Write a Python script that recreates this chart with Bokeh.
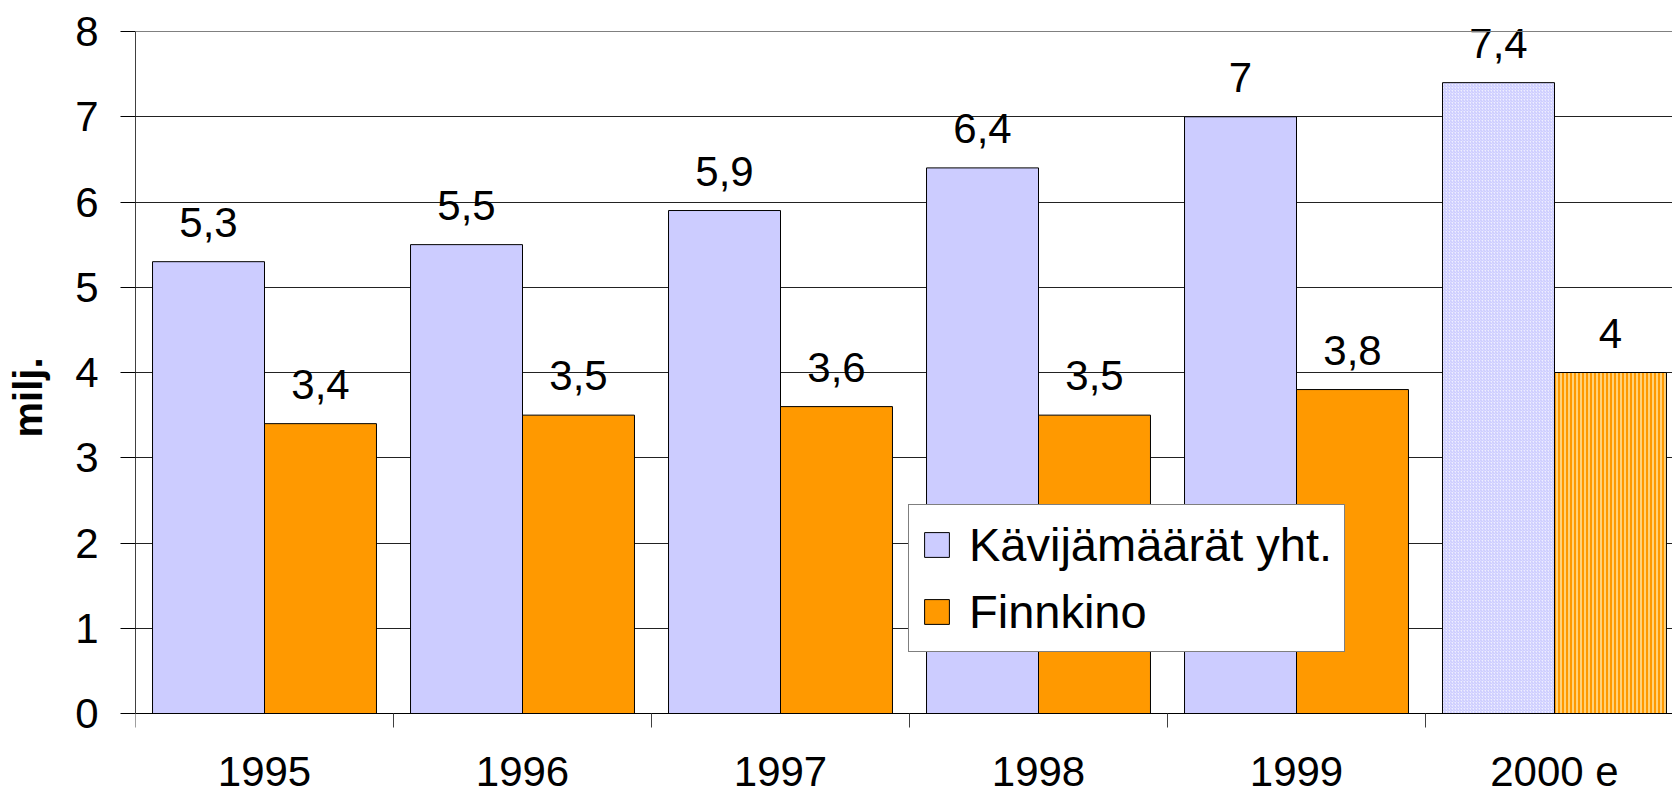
from bokeh.plotting import figure
from bokeh.models import (Range1d, FixedTicker, ColumnDataSource, LabelSet, Legend,
                          LegendItem, Span)
from bokeh.core.properties import value
from bokeh.embed import file_html
from bokeh.resources import INLINE

categories = ["1995", "1996", "1997", "1998", "1999", "2000 e"]
total = [5.3, 5.5, 5.9, 6.4, 7.0, 7.4]
finnkino = [3.4, 3.5, 3.6, 3.5, 3.8, 4.0]
y_ticks = [0, 1, 2, 3, 4, 5, 6, 7, 8]
series_names = ["Kävijämäärät yht.", "Finnkino"]
y_title = "milj."

FONT = "Liberation Sans"
LAV = "#CCCCFF"
ORA = "#FF9900"
BW = 0.434
OFF = 0.217

W, H = 1672, 794
LEFT = 135
TOP_PAD = 31       # px above the y=8 line
BOTTOM_PAD = 81    # px below the y=0 line
CAT_PX = 258.0
Y_PX = (H - TOP_PAD - BOTTOM_PAD) / 8.0


def fmt(v):
    return ("%g" % v).replace(".", ",")


n = len(categories)
centers = [i + 0.5 for i in range(n)]
last = n - 1

src_t = ColumnDataSource(dict(x=[c - OFF for c in centers[:last]], top=total[:last],
                              lab=[fmt(v) for v in total[:last]]))
src_f = ColumnDataSource(dict(x=[c + OFF for c in centers[:last]], top=finnkino[:last],
                              lab=[fmt(v) for v in finnkino[:last]]))
src_te = ColumnDataSource(dict(x=[centers[last] - OFF], top=[total[last]], lab=[fmt(total[last])]))
src_fe = ColumnDataSource(dict(x=[centers[last] + OFF], top=[finnkino[last]], lab=[fmt(finnkino[last])]))

p = figure(width=W, height=H, output_backend="svg", toolbar_location=None,
           x_range=Range1d(0, (W - LEFT) / CAT_PX),
           y_range=Range1d(-BOTTOM_PAD / Y_PX, y_ticks[-1] + TOP_PAD / Y_PX),
           min_border_left=LEFT, min_border_top=0, min_border_right=0, min_border_bottom=0)
p.outline_line_color = None
p.background_fill_color = "white"

r_t = p.vbar(x="x", top="top", width=BW, source=src_t, fill_color=LAV, line_color="black", line_width=1)
r_f = p.vbar(x="x", top="top", width=BW, source=src_f, fill_color=ORA, line_color="black", line_width=1)
p.vbar(x="x", top="top", width=BW, source=src_te, fill_color="#EEEEFF", line_color="black", line_width=1,
       hatch_pattern="/", hatch_color="#C4C4FF", hatch_scale=3, hatch_weight=1)
p.vbar(x="x", top="top", width=BW, source=src_fe, fill_color="#FFD27A", line_color="black", line_width=1,
       hatch_pattern="|", hatch_color=ORA, hatch_scale=4, hatch_weight=2)

for s in (src_t, src_f, src_te, src_fe):
    ls = LabelSet(x="x", y="top", text="lab", source=s, text_align="center", text_baseline="alphabetic",
                  y_offset=25, text_font=value(FONT), text_font_size="42px", text_color="black")
    p.add_layout(ls)

# x axis fixed at y = 0
p.xaxis.fixed_location = 0
p.xaxis.ticker = FixedTicker(ticks=centers, minor_ticks=list(range(n + 1)))
p.xaxis.major_label_overrides = {c: cat for c, cat in zip(centers, categories)}
p.xaxis.major_tick_out = 0
p.xaxis.major_tick_in = 0
p.xaxis.minor_tick_out = 14
p.xaxis.minor_tick_in = 0
p.xaxis.minor_tick_line_color = "#404040"
p.xaxis.axis_line_color = "black"
p.xaxis.major_label_text_font = FONT
p.xaxis.major_label_text_font_size = "42px"
p.xaxis.major_label_text_color = "black"
p.xaxis.major_label_standoff = 20

# y axis
p.yaxis.bounds = (y_ticks[0], y_ticks[-1])
p.yaxis.ticker = FixedTicker(ticks=y_ticks)
p.yaxis.major_tick_out = 15
p.yaxis.major_tick_in = 0
p.yaxis.minor_tick_line_color = None
p.yaxis.axis_line_color = "#404040"
p.yaxis.major_tick_line_color = "black"
p.yaxis.major_label_text_font = FONT
p.yaxis.major_label_text_font_size = "42px"
p.yaxis.major_label_text_color = "black"
p.yaxis.major_label_standoff = 22
p.yaxis.axis_label = y_title
p.yaxis.axis_label_text_font = FONT
p.yaxis.axis_label_text_font_style = "bold"
p.yaxis.axis_label_text_font_size = "40px"
p.yaxis.axis_label_text_color = "black"
p.yaxis.axis_label_standoff = 22

p.xgrid.grid_line_color = None
p.ygrid.ticker = FixedTicker(ticks=y_ticks[1:-1])
p.ygrid.grid_line_color = "#222222"
p.ygrid.grid_line_width = 1
p.add_layout(Span(location=y_ticks[-1], dimension="width", line_color="#808080", line_width=1))

legend = Legend(items=[LegendItem(label=series_names[0], renderers=[r_t]),
                       LegendItem(label=series_names[1], renderers=[r_f])],
                location=(773, 142), orientation="vertical",
                label_text_font=FONT, label_text_font_size="47px", label_text_color="black",
                glyph_width=31, glyph_height=31, label_standoff=17,
                padding=12, spacing=12, margin=0,
                border_line_color="black", border_line_width=1,
                background_fill_color="white", background_fill_alpha=1.0)
p.add_layout(legend, "center")

open("out.html", "w").write(file_html(p, INLINE))
